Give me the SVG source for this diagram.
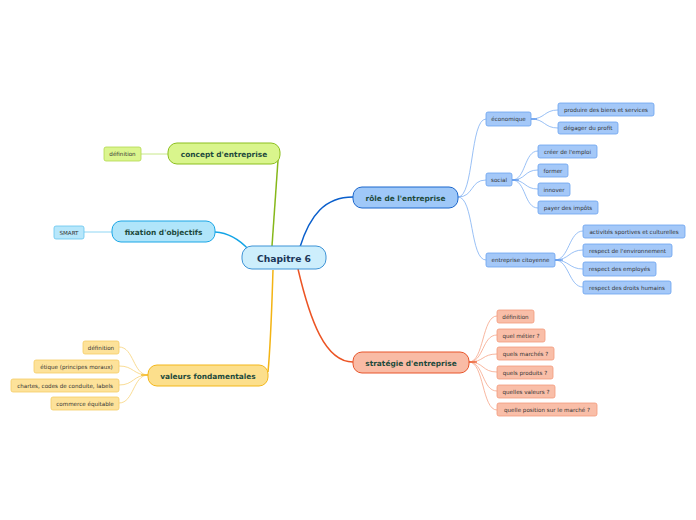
<svg xmlns="http://www.w3.org/2000/svg" width="696" height="520" viewBox="0 0 696 520">
<style>
text{font-family:"DejaVu Sans","Verdana",sans-serif;text-anchor:middle;dominant-baseline:central}
.sub text{font-size:5.6px;fill:#333}
.main text{font-size:7.4px;font-weight:bold;fill:#1d4a3c}
.bl{fill:#a4c8f8;stroke:#6aa2ef;stroke-width:0.8}
.or{fill:#f9bea8;stroke:#f39a7c;stroke-width:0.8}
.ye{fill:#fde29a;stroke:#f5cd66;stroke-width:0.8}
.gr{fill:#dbf58e;stroke:#b2d84e;stroke-width:0.8}
.cy{fill:#b7e7fb;stroke:#66c5ef;stroke-width:0.8}
</style>
<rect width="696" height="520" fill="#fff"/>
<g id="connectors" fill="none">
 <path d="M300 247 C310 215 325 197 353 197" stroke="#0a5fcc" stroke-width="1.5"/>
 <path d="M298 269 C310 320 325 362 353 362" stroke="#ec5424" stroke-width="1.5"/>
 <path d="M249 250 C240 240 230 233 215 232" stroke="#12a4e6" stroke-width="1.5"/>
 <path d="M278 160 L272 246" stroke="#86b81a" stroke-width="1.5"/>
 <path d="M268 372 C271 340 272 300 273 270" stroke="#f3b414" stroke-width="1.5"/>
 <g stroke="#7fb0f2" stroke-width="0.8">
  <path d="M458 197 C474 197 470 119 486 119"/>
  <path d="M458 197 C474 197 470 180 486 180"/>
  <path d="M458 197 C474 197 470 260 486 260"/>
  <path d="M531 119 C545 119 544 110 558 110"/>
  <path d="M531 119 C545 119 544 128 558 128"/>
  <path d="M512 180 C526 180 524 151 538 151"/>
  <path d="M512 180 C526 180 524 170 538 170"/>
  <path d="M512 180 C526 180 524 189 538 189"/>
  <path d="M512 180 C526 180 524 208 538 208"/>
  <path d="M555 260 C569 260 569 231 583 231"/>
  <path d="M555 260 C569 260 569 250 583 250"/>
  <path d="M555 260 C569 260 569 269 583 269"/>
  <path d="M555 260 C569 260 569 287 583 287"/>
 </g>
 <path d="M555 260 L563 260 M512 180 L519 180 M531 119 L537 119" stroke="#4a8ae8" stroke-width="1.2"/>
 <g stroke="#f6a588" stroke-width="0.8">
  <path d="M469 362 C484 362 482 316 497 316"/>
  <path d="M469 362 C484 362 482 335 497 335"/>
  <path d="M469 362 C484 362 482 354 497 354"/>
  <path d="M469 362 C484 362 482 372 497 372"/>
  <path d="M469 362 C484 362 482 391 497 391"/>
  <path d="M469 362 C484 362 482 410 497 410"/>
 </g>
 <path d="M469 362 L477 362" stroke="#ec5424" stroke-width="1.2"/>
 <g stroke="#f8d37a" stroke-width="0.8">
  <path d="M148 375 C133 375 134 347 119 347"/>
  <path d="M148 375 C133 375 134 366 119 366"/>
  <path d="M148 375 C133 375 134 385 119 385"/>
  <path d="M148 375 C133 375 134 403 119 403"/>
 </g>
 <path d="M148 375 L141 375" stroke="#f3b414" stroke-width="1.2"/>
 <path d="M168 154 L141 154" stroke="#c8e88a" stroke-width="1"/>
 <path d="M112 232 L84 232" stroke="#8fd6f4" stroke-width="1"/>
</g>
<g id="center">
 <rect x="242" y="246" width="84" height="23" rx="10" fill="#cdeefc" stroke="#3d93d6" stroke-width="1"/>
 <text x="284" y="258" style="font-size:9.2px;font-weight:bold;fill:#1a3658">Chapitre 6</text>
</g>
<g id="role" class="main">
 <rect x="353" y="187" width="105" height="21" rx="9" fill="#9fc8f8" stroke="#1a66cc" stroke-width="1"/>
 <text x="405.5" y="198">rôle de l'entreprise</text>
</g>
<g id="economique" class="sub"><rect class="bl" x="486" y="112" width="45" height="14" rx="2"/><text x="508.5" y="119">économique</text></g>
<g id="produire" class="sub"><rect class="bl" x="558" y="103" width="96" height="13" rx="2"/><text x="606" y="109.5">produire des biens et services</text></g>
<g id="degager" class="sub"><rect class="bl" x="558" y="122" width="60" height="12" rx="2"/><text x="588" y="128">dégager du profit</text></g>
<g id="social" class="sub"><rect class="bl" x="486" y="173" width="26" height="13" rx="2"/><text x="499" y="179.5">social</text></g>
<g id="creer" class="sub"><rect class="bl" x="538" y="145" width="59" height="13" rx="2"/><text x="567.5" y="151.5">créer de l'emploi</text></g>
<g id="former" class="sub"><rect class="bl" x="538" y="164" width="30" height="13" rx="2"/><text x="553" y="170.5">former</text></g>
<g id="innover" class="sub"><rect class="bl" x="538" y="183" width="32" height="13" rx="2"/><text x="554" y="189.5">innover</text></g>
<g id="payer" class="sub"><rect class="bl" x="538" y="201" width="60" height="13" rx="2"/><text x="568" y="207.5">payer des impôts</text></g>
<g id="citoyenne" class="sub"><rect class="bl" x="486" y="253" width="69" height="14" rx="2"/><text x="520.5" y="260">entreprise citoyenne</text></g>
<g id="activites" class="sub"><rect class="bl" x="583" y="225" width="102" height="13" rx="2"/><text x="634" y="231.5">activités sportives et culturelles</text></g>
<g id="environnement" class="sub"><rect class="bl" x="583" y="244" width="89" height="13" rx="2"/><text x="627.5" y="250.5">respect de l'environnement</text></g>
<g id="employes" class="sub"><rect class="bl" x="583" y="262" width="73" height="14" rx="2"/><text x="619.5" y="269">respect des employés</text></g>
<g id="droits" class="sub"><rect class="bl" x="583" y="281" width="88" height="13" rx="2"/><text x="627" y="287.5">respect des droits humains</text></g>
<g id="strategie" class="main">
 <rect x="353" y="352" width="116" height="21" rx="9" fill="#f9bba5" stroke="#e8552a" stroke-width="1"/>
 <text x="411" y="363">stratégie d'entreprise</text>
</g>
<g id="s-definition" class="sub"><rect class="or" x="497" y="310" width="37" height="13" rx="2"/><text x="515.5" y="316.5">définition</text></g>
<g id="metier" class="sub"><rect class="or" x="497" y="329" width="48" height="13" rx="2"/><text x="521" y="335.5">quel métier ?</text></g>
<g id="marches" class="sub"><rect class="or" x="497" y="347" width="57" height="13" rx="2"/><text x="525.5" y="353.5">quels marchés ?</text></g>
<g id="produits" class="sub"><rect class="or" x="497" y="366" width="56" height="13" rx="2"/><text x="525" y="372.5">quels produits ?</text></g>
<g id="valeursq" class="sub"><rect class="or" x="497" y="385" width="58" height="13" rx="2"/><text x="526" y="391.5">quelles valeurs ?</text></g>
<g id="position" class="sub"><rect class="or" x="497" y="403" width="100" height="13" rx="2"/><text x="547" y="409.5">quelle position sur le marché ?</text></g>
<g id="concept" class="main">
 <rect x="168" y="143" width="112" height="21" rx="9" fill="#d9f58c" stroke="#8cbf1e" stroke-width="1"/>
 <text x="224" y="154">concept d'entreprise</text>
</g>
<g id="c-definition" class="sub"><rect class="gr" x="104" y="147" width="37" height="14" rx="2"/><text x="122.5" y="154">définition</text></g>
<g id="fixation" class="main">
 <rect x="112" y="221" width="103" height="21" rx="9" fill="#b0e5fa" stroke="#1aa6e6" stroke-width="1"/>
 <text x="163.5" y="232">fixation d'objectifs</text>
</g>
<g id="smart" class="sub"><rect class="cy" x="54" y="226" width="30" height="13" rx="2"/><text x="69" y="232.5">SMART</text></g>
<g id="valeurs" class="main">
 <rect x="148" y="365" width="120" height="21" rx="9" fill="#fcdf8c" stroke="#f3b71a" stroke-width="1"/>
 <text x="208" y="376">valeurs fondamentales</text>
</g>
<g id="v-definition" class="sub"><rect class="ye" x="83" y="341" width="36" height="13" rx="2"/><text x="101" y="347.5">définition</text></g>
<g id="etique" class="sub"><rect class="ye" x="34" y="360" width="85" height="13" rx="2"/><text x="76.5" y="366.5">étique (principes moraux)</text></g>
<g id="chartes" class="sub"><rect class="ye" x="11" y="379" width="108" height="13" rx="2"/><text x="65" y="385.5">chartes, codes de conduite, labels</text></g>
<g id="commerce" class="sub"><rect class="ye" x="51" y="397" width="68" height="13" rx="2"/><text x="85" y="403.5">commerce équitable</text></g>
</svg>
